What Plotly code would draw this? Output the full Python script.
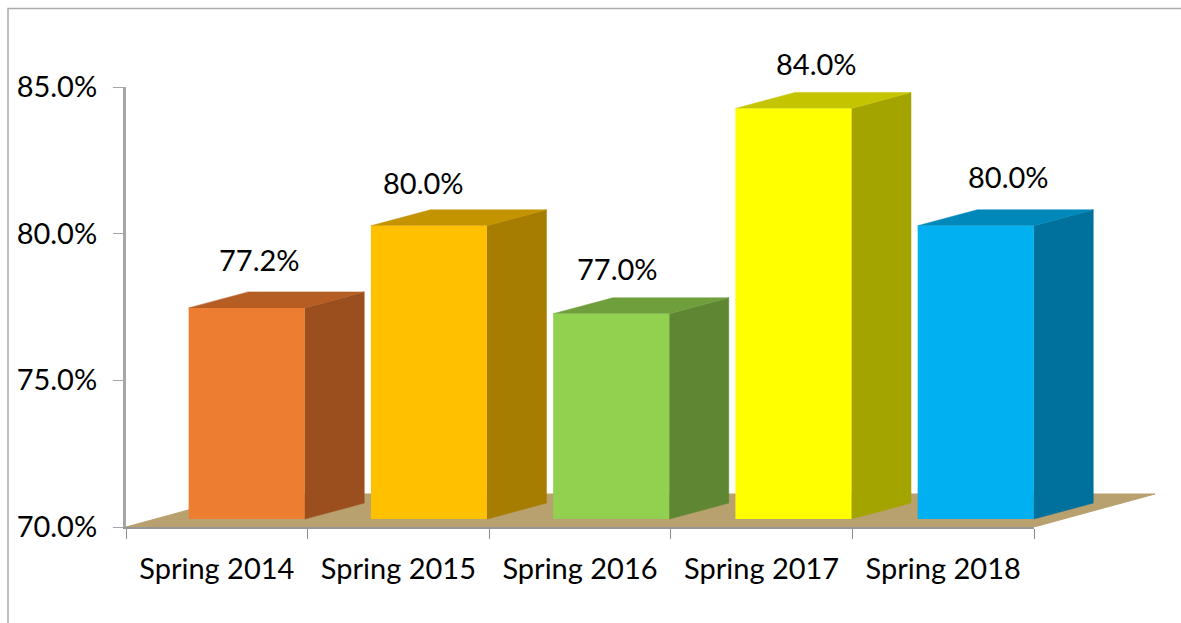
import plotly.graph_objects as go

W, H = 1181, 623

# data
terms = ["Spring 2014", "Spring 2015", "Spring 2016", "Spring 2017", "Spring 2018"]
rates = [77.2, 80.0, 77.0, 84.0, 80.0]
y_ticks = [70, 75, 80, 85]

# colours per bar
front_colors = ["#ED7D31", "#FFC000", "#92D050", "#FFFF00", "#00B0F0"]
side_colors = ["#9C4F1E", "#A67D00", "#5F8733", "#A4A400", "#00719C"]
top_colors = ["#B55D23", "#C49400", "#6F9E3C", "#C4C400", "#0088BB"]

# 3d look, in category widths / axis units
bar_width = 0.639
bar_offset = -0.155
bar_drift = 0.0036  # bars are spaced a touch wider than the ticks
depth_x = 0.328
depth_y = 0.545
lift = 0.27
floor_dx = 0.666
floor_dy = 1.125

# label nudges in pixels, the original labels were dragged around by hand
label_dx = [43, 25, 37, 55, 65]
label_dy = [56, 51, 53, 53, 57]

fig = go.Figure()

# floor goes on the wide hidden axis so it can stick out past the last tick
fig.add_trace(go.Scatter(
    x=[-0.5, 4.5, 4.5 + floor_dx, -0.5 + floor_dx, -0.5],
    y=[70, 70, 70 + floor_dy, 70 + floor_dy, 70],
    fill="toself", fillcolor="#B9A06F", mode="lines",
    line=dict(color="#B9A06F", width=1), hoverinfo="skip",
))

offsets = [bar_offset + i * bar_drift for i in range(len(rates))]

for i, v in enumerate(rates):
    left = i + offsets[i]
    right = left + bar_width
    bottom = 70 + lift
    top = v + lift
    # side face
    fig.add_trace(go.Scatter(
        x=[right, right + depth_x, right + depth_x, right, right],
        y=[bottom, bottom + depth_y, top + depth_y, top, bottom],
        fill="toself", fillcolor=side_colors[i], mode="lines",
        line=dict(color=side_colors[i], width=0.5), hoverinfo="skip",
    ))
    # top face
    fig.add_trace(go.Scatter(
        x=[left, left + depth_x, right + depth_x, right, left],
        y=[top, top + depth_y, top + depth_y, top, top],
        fill="toself", fillcolor=top_colors[i], mode="lines",
        line=dict(color=top_colors[i], width=0.5), hoverinfo="skip",
    ))

# front faces
fig.add_trace(go.Bar(
    x=terms, y=[v - 70 for v in rates], base=70 + lift,
    width=bar_width, offset=offsets,
    marker=dict(color=front_colors, line=dict(width=0)),
    xaxis="x2", yaxis="y", hoverinfo="skip",
))

for i, v in enumerate(rates):
    fig.add_annotation(
        x=terms[i], y=v, xref="x2", yref="y", text=f"{v:.1f}%", showarrow=False,
        xshift=label_dx[i], yshift=label_dy[i],
        font=dict(family="Lato", size=29, color="#000000"),
    )

# outer frame
fig.add_shape(
    type="path", xref="paper", yref="paper",
    path=f"M {8 / W} 0 L {8 / W} {1 - 8.5 / H} L 1 {1 - 8.5 / H}",
    line=dict(color="#ABABAB", width=1.5),
)

x_left = 126 / W
grey = "#A6A6A6"
fig.update_layout(
    width=W, height=H,
    margin=dict(l=0, r=0, t=0, b=0, autoexpand=False),
    paper_bgcolor="white", plot_bgcolor="rgba(0,0,0,0)",
    showlegend=False,
    font=dict(family="Lato", size=29, color="#000000"),
    xaxis=dict(
        domain=[x_left, 1155 / W], range=[-0.5, -0.5 + (1155 - 126) / 181.6],
        visible=False, anchor="y",
    ),
    xaxis2=dict(
        domain=[x_left, 1034 / W], type="category", anchor="y",
        range=[-0.5, 4.5], tickson="boundaries",
        ticks="outside", ticklen=10, tickwidth=1, tickcolor="#8C8C8C",
        showline=True, linecolor="#969696", linewidth=2, showgrid=False,
        ticklabelstandoff=15,
    ),
    yaxis=dict(
        domain=[(H - 527) / H, (H - 87) / H], range=[70, 85], anchor="x",
        tickvals=y_ticks, ticktext=[f"{t:.1f}%" for t in y_ticks],
        ticks="outside", ticklen=10, tickwidth=1, tickcolor=grey,
        showline=True, linecolor=grey, linewidth=3, showgrid=False, zeroline=False,
        ticklabelstandoff=10,
    ),
)

fig.write_html(
    "out.html",
    config={"displayModeBar": False},
    post_script="document.body.style.margin='0';document.body.style.overflow='hidden';",
)
